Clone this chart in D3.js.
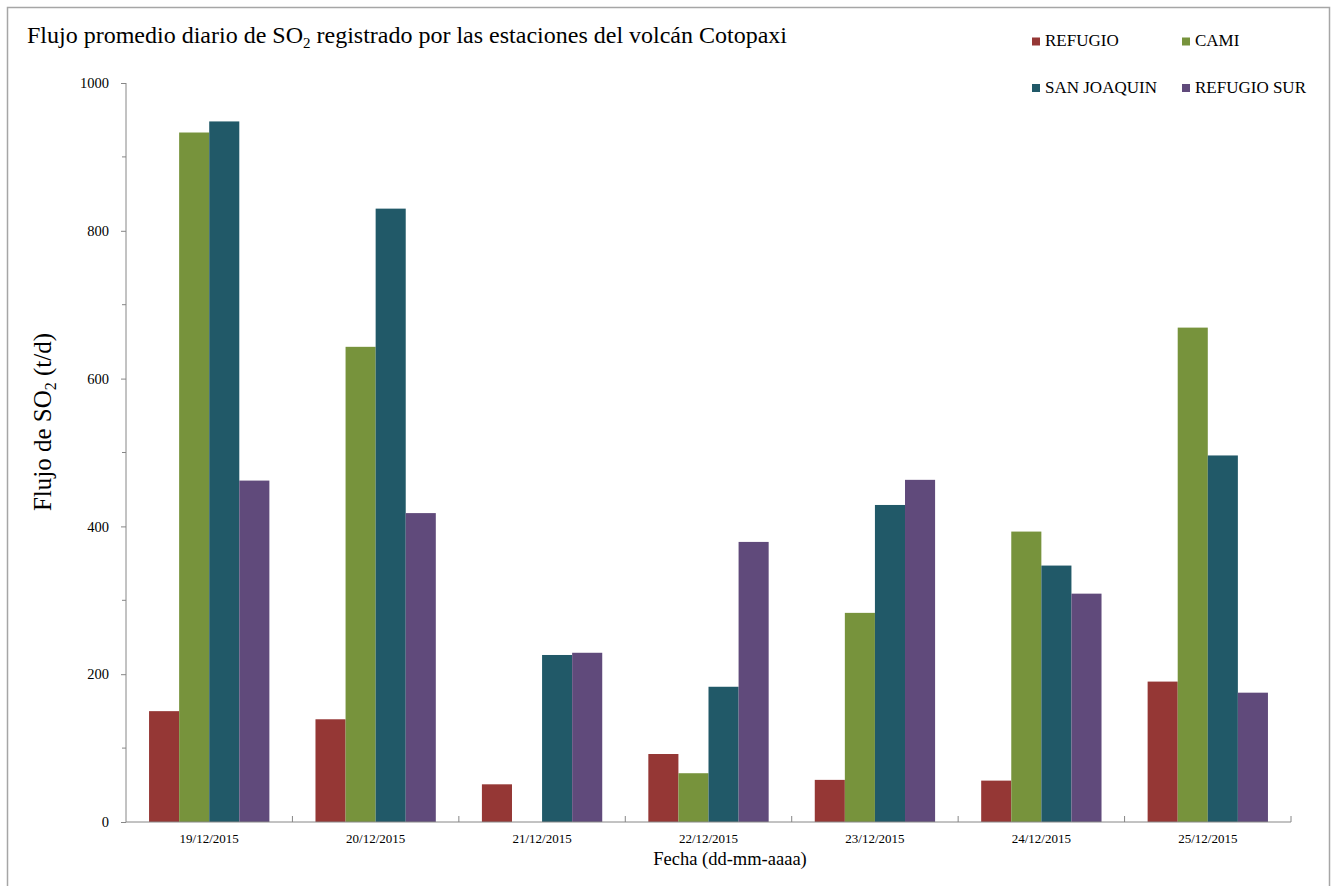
<!DOCTYPE html>
<html>
<head>
<meta charset="utf-8">
<script src="https://cdn.jsdelivr.net/npm/d3@7"></script>
<style>
  body { margin: 0; background: #fff; }
  text { font-family: "Liberation Serif", "Times New Roman", serif; fill: #000; }
</style>
</head>
<body>
<div id="MyChart"></div>
<script>
var fechas = ["19/12/2015","20/12/2015","21/12/2015","22/12/2015","23/12/2015","24/12/2015","25/12/2015"];
var series = ["REFUGIO","CAMI","SAN JOAQUIN","REFUGIO SUR"];
var refugio    = [150, 139, 51, 92, 57, 56, 190];
var cami       = [933, 643, 0, 66, 283, 393, 669];
var sanJoaquin = [948, 830, 226, 183, 429, 347, 496];
var refugioSur = [462, 418, 229, 379, 463, 309, 175];
var yTicks = [0, 200, 400, 600, 800, 1000];
var colores = ["#953735", "#77933C", "#215968", "#604A7B"];

var valores = [refugio, cami, sanJoaquin, refugioSur];

var W = 1336, H = 886;
var margin = {top: 83, right: 45, bottom: 64, left: 126}
  , width = W - margin.left - margin.right
  , height = H - margin.top - margin.bottom;

var svg0 = d3.select("#MyChart").append("svg")
    .attr("width", W)
    .attr("height", H);

// marco exterior
svg0.append("rect")
    .attr("x", 7.5).attr("y", 7.5)
    .attr("width", 1322).attr("height", 900)
    .style("fill", "none")
    .style("stroke", "#a6a6a6")
    .style("stroke-width", 1.5);

var svg = svg0.append("g")
    .attr("transform", "translate(" + margin.left + "," + margin.top + ")");

var xScale = d3.scaleBand()
    .domain(fechas)
    .range([0, width])
    .paddingInner(0.277)
    .paddingOuter(0.1385);

var xSub = d3.scaleBand()
    .domain(series)
    .range([0, xScale.bandwidth()]);

var yScale = d3.scaleLinear()
    .domain([0, 1000])
    .range([height, 0]);

var step = xScale.step();

// barras
svg.selectAll(".grupo")
    .data(fechas)
    .enter().append("g")
    .attr("class", "grupo")
    .attr("transform", function(d) { return "translate(" + xScale(d) + ",0)"; })
    .selectAll("rect")
    .data(function(d, i) { return series.map(function(s, j) { return {s: s, v: valores[j][i], c: colores[j]}; }); })
    .enter().append("rect")
    .attr("x", function(d) { return xSub(d.s); })
    .attr("width", xSub.bandwidth())
    .attr("y", function(d) { return yScale(d.v); })
    .attr("height", function(d) { return height - yScale(d.v); })
    .style("fill", function(d) { return d.c; });

// eje Y
var yAxis = svg.append("g")
    .attr("class", "y axis")
    .call(d3.axisLeft(yScale).tickValues(yTicks).tickSize(5).tickPadding(12).tickFormat(d3.format("d")));
yAxis.select(".domain").attr("d", "M0," + yScale(1000) + "V" + yScale(0));
yAxis.selectAll(".tick text").style("font-size", "14.5px").style("font-family", "Liberation Serif");
yAxis.selectAll("line, path").style("stroke", "#868686");

// ticks menores
svg.append("g").selectAll("line")
    .data(d3.range(100, 1000, 200))
    .enter().append("line")
    .attr("x1", -4).attr("x2", 0)
    .attr("y1", function(d) { return yScale(d); })
    .attr("y2", function(d) { return yScale(d); })
    .style("stroke", "#868686");

// eje X
var xAxis = svg.append("g")
    .attr("class", "x axis")
    .attr("transform", "translate(0," + height + ")")
    .call(d3.axisBottom(xScale).tickSize(0).tickPadding(12));
xAxis.select(".domain").attr("d", "M0,0H" + width).style("stroke", "#868686");
xAxis.selectAll(".tick text").style("font-size", "13px").style("font-family", "Liberation Serif");

xAxis.append("g").selectAll("line")
    .data(d3.range(1, fechas.length + 1))
    .enter().append("line")
    .attr("x1", function(d) { return d * step; })
    .attr("x2", function(d) { return d * step; })
    .attr("y1", 0).attr("y2", -6)
    .style("stroke", "#868686");

// titulo
var titulo = svg0.append("text")
    .attr("x", 27).attr("y", 43)
    .style("font-size", "24px");
titulo.append("tspan").text("Flujo promedio diario de SO");
titulo.append("tspan").attr("dy", 5).style("font-size", "15px").text("2");
titulo.append("tspan").attr("dy", -5).text(" registrado por las estaciones del volcán Cotopaxi");

// etiqueta Y
var ylab = svg0.append("text")
    .attr("transform", "translate(51," + 422 + ") rotate(-90)")
    .attr("text-anchor", "middle")
    .style("font-size", "25px");
ylab.append("tspan").text("Flujo de SO");
ylab.append("tspan").attr("dy", 5).style("font-size", "16px").text("2");
ylab.append("tspan").attr("dy", -5).text(" (t/d)");

// etiqueta X
svg0.append("text")
    .attr("x", 730)
    .attr("y", 865)
    .attr("text-anchor", "middle")
    .style("font-size", "18.5px")
    .text("Fecha (dd-mm-aaaa)");

// leyenda
var leyenda = svg0.append("g").selectAll("g")
    .data(series)
    .enter().append("g")
    .attr("transform", function(d, i) { return "translate(" + (1032 + (i % 2) * 150) + "," + (37.5 + Math.floor(i / 2) * 46.5) + ")"; });
leyenda.append("rect")
    .attr("width", 8).attr("height", 8)
    .style("fill", function(d, i) { return colores[i]; });
leyenda.append("text")
    .attr("x", 13).attr("y", 8.5)
    .style("font-size", "17px")
    .text(function(d) { return d; });
</script>
</body>
</html>
